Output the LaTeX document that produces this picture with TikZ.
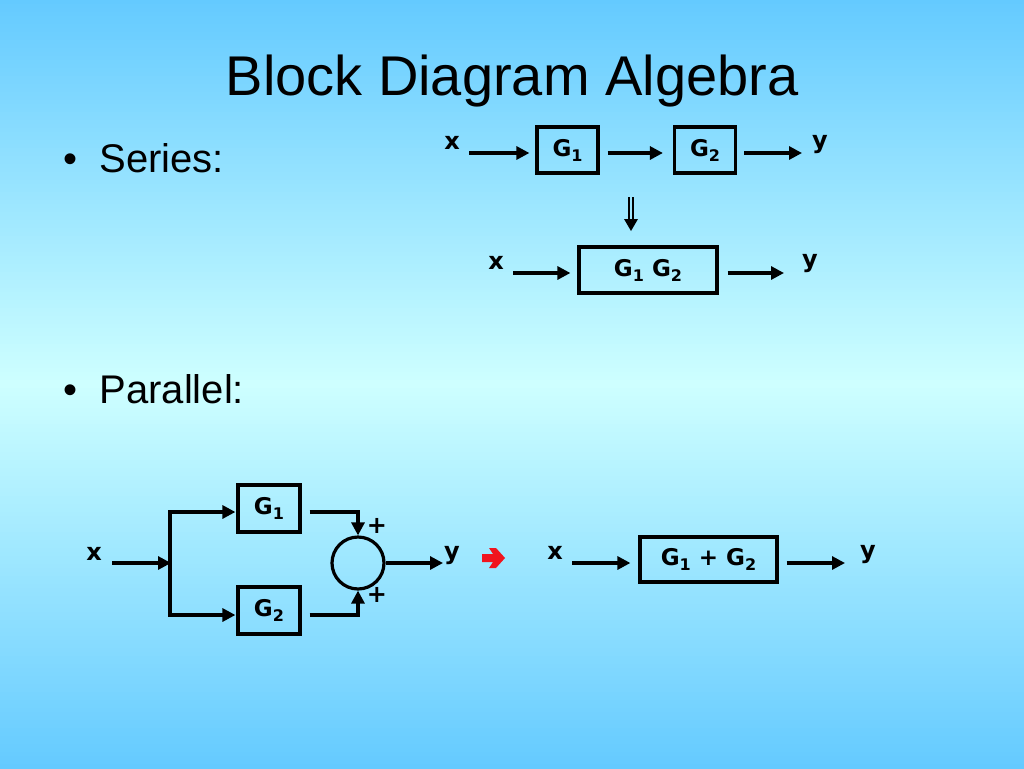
\documentclass[tikz,border=0pt]{standalone}
\usepackage{fontspec}
\setmainfont{Liberation Sans}
\newfontfamily\blkfont{DejaVu Sans}
\usetikzlibrary{arrows.meta}

\definecolor{slideblue}{RGB}{100,202,255}
\definecolor{slidecyan}{RGB}{206,255,255}
\definecolor{arrowred}{RGB}{240,20,30}

\newcommand{\Gs}[1]{G\raisebox{-5pt}{\fontsize{16}{16}\selectfont #1}}

\tikzset{
	blk/.style={draw, line width=3.2pt, inner sep=0pt, font=\blkfont\bfseries\fontsize{23}{26}\selectfont},
	sig/.style={font=\blkfont\bfseries\fontsize{24}{26}\selectfont},
	arr/.style={line width=3.1pt, -{Triangle[length=13pt,width=13pt]}},
	wire/.style={line width=3.1pt},
}

\begin{document}
\begin{tikzpicture}[x=1pt,y=-1pt]

\def\LINECOLOR{black}
	\useasboundingbox (0,0) rectangle (1024,768);
	\foreach \i in {0,...,191} {
		\pgfmathsetmacro\pc{100*(1-abs(\i*4+2-384)/384)}
		\fill[slidecyan!\pc!slideblue] (0,\i*4) rectangle (1024,\i*4+4.6);
	}

	\node[anchor=base, font=\fontsize{56}{60}\selectfont] (title) at (512,95) {Block Diagram Algebra};
	\node[anchor=base west, font=\fontsize{40}{44}\selectfont] (series) at (60,172) {\textbullet\hspace{22pt}Series:};
	\node[anchor=base west, font=\fontsize{40}{44}\selectfont] (parallel) at (60,403) {\textbullet\hspace{22pt}Parallel:};

	\node[blk, minimum width=61pt, minimum height=46pt] (g1s) at (567.5,150) {\Gs{1}};
	\node[blk, minimum width=61pt, minimum height=46pt] (g2s) at (705,150) {\Gs{2}};
	\node[sig] (xs) at (452,143) {x};
	\node[sig] (ys) at (820,145) {y};
	\coordinate (xs0) at (469,153);
	\coordinate (ys0) at (802,153);
	\draw[arr, \LINECOLOR, shorten >=6pt] (xs0) -- (xs0 -| g1s.west);
	\draw[arr, \LINECOLOR, shorten <=8pt, shorten >=10pt] (g1s.east |- xs0) -- (xs0 -| g2s.west);
	\draw[arr, \LINECOLOR, shorten <=7pt] (g2s.east |- xs0) -- (ys0);

	\draw[line width=1.4pt] (629,197) -- (629,221) (633,197) -- (633,221);
	\fill[\LINECOLOR] (624,219) -- (638,219) -- (631,231) -- cycle;

	\node[blk, minimum width=138pt, minimum height=46pt] (g12s) at (648,270) {\Gs{1} \Gs{2}};
	\node[sig] (xs1) at (496,263) {x};
	\node[sig] (ys1) at (810,264) {y};
	\coordinate (xs2) at (513,273);
	\coordinate (ys2) at (784,273);
	\draw[arr, \LINECOLOR, shorten >=7pt] (xs2) -- (xs2 -| g12s.west);
	\draw[arr, \LINECOLOR, shorten <=9pt] (g12s.east |- xs2) -- (ys2);

	\node[blk, minimum width=62pt, minimum height=47pt] (g1p) at (269,508.5) {\Gs{1}};
	\node[blk, minimum width=62pt, minimum height=47pt] (g2p) at (269,610.5) {\Gs{2}};
	\node[draw, circle, line width=3.2pt, minimum size=52pt, inner sep=0pt] (sum) at (358,563) {};
	\node[sig] (xp) at (94,554) {x};
	\node[sig] (yp) at (452,556) {y};
	\node[sig] (plus1) at (377,526) {+};
	\node[sig] (plus2) at (377,595) {+};
	\coordinate (xp0) at (112,563);
	\coordinate (jn) at (171,563);
	\coordinate (jt) at (170,512);
	\coordinate (jb) at (170,615);
	\coordinate (yp0) at (443,563);
	\draw[arr, \LINECOLOR] (xp0) -- (jn);
	\draw[wire, \LINECOLOR, line cap=rect] (jt) -- (jb);
	\draw[arr, \LINECOLOR, shorten >=1pt] (jt) -- (jt -| g1p.west);
	\draw[arr, \LINECOLOR, shorten >=1pt] (jb) -- (jb -| g2p.west);
	\draw[arr, \LINECOLOR, shorten <=8pt] (g1p.east |- jt) -| (sum.north);
	\draw[arr, \LINECOLOR, shorten <=8pt] (g2p.east |- jb) -| (sum.south);
	\draw[arr, \LINECOLOR] (sum.east) -- (yp0);

	\fill[arrowred] (482,554) -- (493,554) -- (489,548) -- (496,548) -- (505,558) -- (496,568) -- (489,568) -- (493,562) -- (482,562) -- cycle;

	\node[blk, minimum width=137pt, minimum height=45pt] (g12p) at (708.5,559.5) {\Gs{1} + \Gs{2}};
	\node[sig] (xp1) at (555,553) {x};
	\node[sig] (yp1) at (868,555) {y};
	\coordinate (xp2) at (572,563);
	\coordinate (yp2) at (845,563);
	\draw[arr, \LINECOLOR, shorten >=8pt] (xp2) -- (xp2 -| g12p.west);
	\draw[arr, \LINECOLOR, shorten <=8pt] (g12p.east |- xp2) -- (yp2);

\end{tikzpicture}
\end{document}
